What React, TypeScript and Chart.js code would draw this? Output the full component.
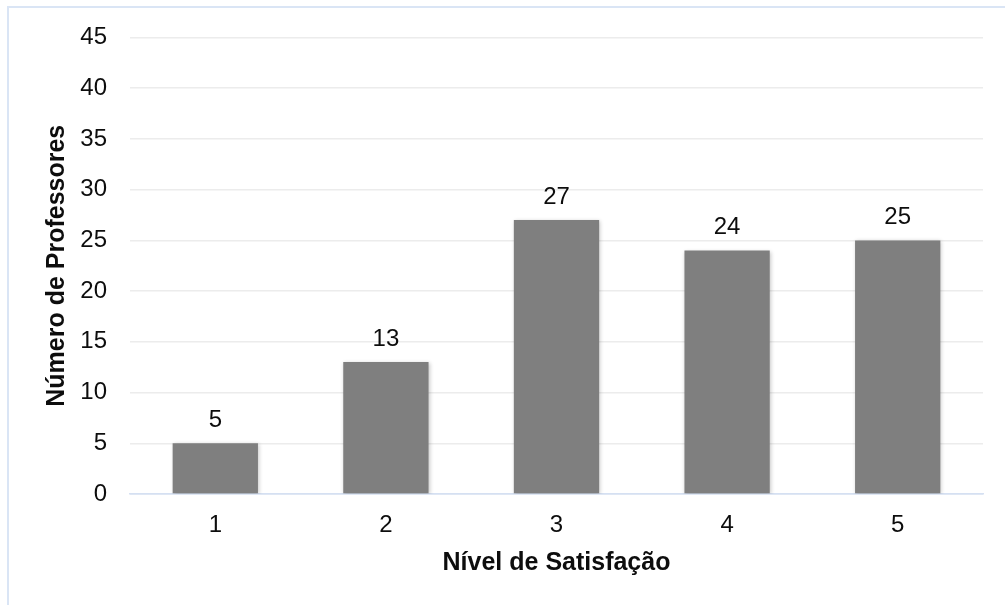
import React, { useEffect, useRef } from "react";
import { Chart, registerables } from "chart.js";

Chart.register(...registerables);

const categories: string[] = ["1", "2", "3", "4", "5"];
const professorCounts: number[] = [5, 13, 27, 24, 25];
const yTickMax = 45;
const yTickStep = 5;
const xTitle = "Nível de Satisfação";
const yTitle = "Número de Professores";

const FONT = "'Liberation Sans', Arial, sans-serif";
const TEXT = "#0d0d0d";

const valueLabels = {
  id: "valueLabels",
  afterDatasetsDraw(chart: any) {
    const ctx = chart.ctx;
    const meta = chart.getDatasetMeta(0);
    ctx.save();
    ctx.fillStyle = TEXT;
    ctx.font = `24px ${FONT}`;
    ctx.textAlign = "center";
    ctx.textBaseline = "alphabetic";
    meta.data.forEach((bar: any, i: number) => {
      ctx.fillText(String(professorCounts[i]), bar.x, bar.y - 16.5);
    });
    ctx.restore();
  },
};

const barShadow = {
  id: "barShadow",
  beforeDatasetsDraw(chart: any) {
    const ctx = chart.ctx;
    ctx.save();
    ctx.shadowColor = "rgba(0,0,0,0.22)";
    ctx.shadowBlur = 4;
    ctx.shadowOffsetX = 1;
    ctx.shadowOffsetY = 1;
  },
  afterDatasetsDraw(chart: any) {
    chart.ctx.restore();
  },
};

export default function App() {
  const ref = useRef<HTMLCanvasElement | null>(null);

  useEffect(() => {
    if (!ref.current) return;
    const chart = new Chart(ref.current, {
      type: "bar",
      data: {
        labels: categories,
        datasets: [
          {
            data: professorCounts,
            backgroundColor: "#7f7f7f",
            borderWidth: 0,
            barPercentage: 0.5,
            categoryPercentage: 1.0,
          },
        ],
      },
      options: {
        animation: false,
        responsive: false,
        maintainAspectRatio: false,
        layout: { padding: { top: 37.5, right: 22, bottom: 0, left: 0 } },
        plugins: {
          legend: { display: false },
          tooltip: { enabled: false },
        },
        scales: {
          x: {
            grid: { display: false, drawTicks: false },
            border: { display: true, color: "#d5e0f2", width: 1.5 },
            ticks: {
              color: TEXT,
              font: { family: FONT, size: 24 },
              padding: 17,
            },
            title: {
              display: true,
              text: xTitle,
              color: TEXT,
              font: { family: FONT, size: 25, weight: "bold" },
              padding: { top: 0, bottom: 27 },
            },
            afterFit(scale: any) {
              scale.height = 111;
            },
          },
          y: {
            min: 0,
            max: yTickMax,
            ticks: {
              stepSize: yTickStep,
              color: TEXT,
              font: { family: FONT, size: 24 },
              padding: 23,
            },
            grid: {
              drawTicks: false,
              color: (c: any) => (c.tick && c.tick.value === 0 ? "#d5e0f2" : "#ececec"),
              lineWidth: 1.5,
            },
            border: { display: false },
            title: {
              display: true,
              text: yTitle,
              color: TEXT,
              font: { family: FONT, size: 25, weight: "bold" },
              padding: { top: 42, bottom: 0 },
            },
            afterFit(scale: any) {
              scale.width = 130;
            },
          },
        },
      },
      plugins: [barShadow, valueLabels],
    });
    return () => chart.destroy();
  }, []);

  return (
    <>
      <canvas
        ref={ref}
        width={1005}
        height={605}
        style={{ position: "fixed", left: 0, top: 0, width: 1005, height: 605 }}
      />
      <div
        style={{
          position: "fixed",
          left: 7,
          top: 6,
          width: 2000,
          height: 2000,
          border: "2px solid #dae5f5",
          pointerEvents: "none",
        }}
      />
    </>
  );
}
